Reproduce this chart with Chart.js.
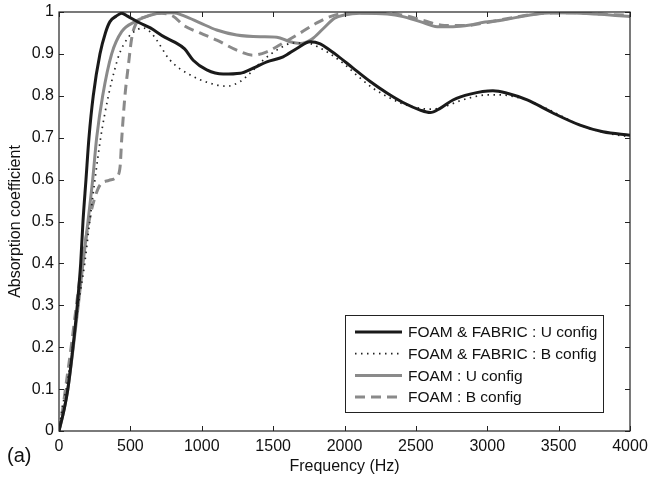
<!DOCTYPE html>
<html>
<head>
<meta charset="utf-8">
<script src="https://cdn.jsdelivr.net/npm/chart.js@4.4.1/dist/chart.umd.min.js"></script>
<style>
  body { margin: 0; background: #fff; }
  canvas { display: block; }
</style>
</head>
<body>
<canvas id="absorption-chart" width="648" height="479"></canvas>
<script>
// values, frequency in Hz
var seriesNames = ["FOAM & FABRIC : U config", "FOAM & FABRIC : B config", "FOAM : U config", "FOAM : B config"];

var fabricUFreq = [0, 35, 62, 98, 128, 152, 168, 189, 210, 240, 287, 325, 357, 400, 440, 480, 560, 640, 740, 810, 880, 940, 1035, 1150, 1270, 1360, 1456, 1570, 1666, 1760, 1830, 1900, 1950, 2060, 2180, 2300, 2410, 2530, 2600, 2670, 2760, 2880, 3040, 3140, 3280, 3460, 3650, 3810, 4000];
var fabricUAbs = [0, 0.05, 0.1, 0.2, 0.3, 0.4, 0.5, 0.6, 0.7, 0.8, 0.9, 0.95, 0.977, 0.99, 0.997, 0.99, 0.975, 0.962, 0.94, 0.928, 0.912, 0.885, 0.862, 0.852, 0.854, 0.866, 0.881, 0.893, 0.913, 0.929, 0.924, 0.908, 0.896, 0.866, 0.834, 0.806, 0.784, 0.766, 0.76, 0.77, 0.79, 0.804, 0.812, 0.806, 0.79, 0.759, 0.73, 0.714, 0.706];

var fabricBFreq = [0, 25, 50, 95, 135, 180, 215, 252, 292, 346, 393, 423, 486, 544, 590, 640, 680, 778, 918, 1058, 1175, 1269, 1339, 1430, 1549, 1640, 1738, 1829, 1900, 2000, 2100, 2200, 2300, 2400, 2500, 2600, 2700, 2800, 2900, 3000, 3100, 3200, 3300, 3400, 3500, 3600, 3700, 3800, 3900, 4000];
var fabricBAbs = [0, 0.06, 0.1, 0.2, 0.3, 0.4, 0.5, 0.6, 0.7, 0.8, 0.866, 0.9, 0.94, 0.957, 0.962, 0.952, 0.935, 0.885, 0.85, 0.83, 0.823, 0.834, 0.854, 0.885, 0.914, 0.926, 0.926, 0.914, 0.9, 0.875, 0.845, 0.818, 0.798, 0.782, 0.772, 0.768, 0.774, 0.787, 0.797, 0.802, 0.802, 0.797, 0.787, 0.772, 0.755, 0.738, 0.724, 0.714, 0.707, 0.702];

var foamUFreq = [0, 35, 62, 100, 135, 168, 203, 236, 264, 306, 369, 439, 533, 620, 700, 800, 880, 988, 1105, 1245, 1409, 1526, 1619, 1690, 1770, 1850, 1930, 2000, 2110, 2300, 2410, 2530, 2650, 2760, 2880, 2950, 3110, 3300, 3460, 3650, 3860, 4000];
var foamUAbs = [0, 0.05, 0.1, 0.2, 0.3, 0.4, 0.5, 0.6, 0.7, 0.8, 0.9, 0.953, 0.977, 0.99, 0.997, 0.998, 0.99, 0.974, 0.957, 0.945, 0.941, 0.94, 0.929, 0.925, 0.935, 0.96, 0.985, 0.993, 0.997, 0.995, 0.989, 0.977, 0.965, 0.965, 0.969, 0.974, 0.981, 0.993, 0.998, 0.997, 0.993, 0.989];

var foamBFreq = [0, 25, 45, 85, 122, 160, 210, 245, 287, 350, 404, 428, 439, 462, 486, 509, 535, 620, 720, 800, 870, 988, 1105, 1245, 1360, 1456, 1570, 1690, 1806, 1900, 2000, 2200, 2400, 2550, 2700, 2850, 3000, 3200, 3400, 3600, 3800, 4000];
var foamBAbs = [0, 0.05, 0.1, 0.2, 0.3, 0.4, 0.5, 0.55, 0.587, 0.598, 0.607, 0.631, 0.695, 0.8, 0.873, 0.937, 0.969, 0.99, 0.997, 0.99, 0.969, 0.95, 0.933, 0.909, 0.897, 0.905, 0.926, 0.95, 0.974, 0.989, 0.997, 0.998, 0.993, 0.98, 0.968, 0.968, 0.975, 0.988, 0.997, 0.998, 0.995, 0.992];

var xTicks = [0, 500, 1000, 1500, 2000, 2500, 3000, 3500, 4000];
var yTicks = [0, 0.1, 0.2, 0.3, 0.4, 0.5, 0.6, 0.7, 0.8, 0.9, 1];

var dark = "#1a1a1a";
var gray = "#8a8a8a";
var fontFamily = "'Liberation Sans', Arial, Helvetica, sans-serif";

function zip(xs, ys) {
	var pts = [];
	for (var i = 0; i < xs.length; i++) {
		pts.push({ x : xs[i], y : ys[i] });
	}
	return pts;
}

// matlab-ish box: inward ticks on all four sides, legend and panel tag
var boxPlugin = {
	id : "matlabBox",
	afterDraw : function (chart) {
		var ctx = chart.ctx;
		var area = chart.chartArea;
		var xs = chart.scales.x;
		var ys = chart.scales.y;
		var len = 5;

		ctx.save();
		ctx.strokeStyle = "#222";
		ctx.lineWidth = 1.2;
		ctx.strokeRect(area.left, area.top, area.right - area.left, area.bottom - area.top);

		ctx.lineWidth = 1;
		ctx.beginPath();
		xTicks.forEach(function (v) {
			var px = Math.round(xs.getPixelForValue(v)) + 0.5;
			ctx.moveTo(px, area.bottom);
			ctx.lineTo(px, area.bottom - len);
			ctx.moveTo(px, area.top);
			ctx.lineTo(px, area.top + len);
		});
		yTicks.forEach(function (v) {
			var py = Math.round(ys.getPixelForValue(v)) + 0.5;
			ctx.moveTo(area.left, py);
			ctx.lineTo(area.left + len, py);
			ctx.moveTo(area.right, py);
			ctx.lineTo(area.right - len, py);
		});
		ctx.stroke();

		// legend
		var lx = 345, ly = 315, lw = 258, lh = 97;
		ctx.fillStyle = "#fff";
		ctx.fillRect(lx, ly, lw, lh);
		ctx.strokeStyle = "#222";
		ctx.lineWidth = 1;
		ctx.strokeRect(lx + 0.5, ly + 0.5, lw, lh);

		ctx.font = "15.5px " + fontFamily;
		ctx.textBaseline = "middle";
		ctx.textAlign = "left";
		chart.data.datasets.forEach(function (ds, i) {
			var rowY = ly + 17 + i * 21.7;
			ctx.beginPath();
			ctx.strokeStyle = ds.borderColor;
			ctx.lineWidth = ds.borderWidth;
			ctx.setLineDash(ds.borderDash || []);
			ctx.moveTo(lx + 10, rowY);
			ctx.lineTo(lx + 57, rowY);
			ctx.stroke();
			ctx.setLineDash([]);
			ctx.fillStyle = "#111";
			ctx.fillText(ds.label, lx + 63, rowY + 1);
		});

		ctx.font = "20px " + fontFamily;
		ctx.textBaseline = "alphabetic";
		ctx.fillStyle = "#111";
		ctx.fillText("(a)", 7, 462);
		ctx.restore();
	}
};

var ctx1 = document.getElementById("absorption-chart");

var chart1 = new Chart(ctx1, {
	type : "line",
	data : {
		datasets : [
			{
				label : seriesNames[0],
				data : zip(fabricUFreq, fabricUAbs),
				borderColor : dark,
				borderWidth : 3,
				pointRadius : 0,
				cubicInterpolationMode : "monotone"
			},
			{
				label : seriesNames[1],
				data : zip(fabricBFreq, fabricBAbs),
				borderColor : "#222",
				borderWidth : 1.7,
				borderDash : [1.5, 4.5],
				pointRadius : 0,
				cubicInterpolationMode : "monotone"
			},
			{
				label : seriesNames[2],
				data : zip(foamUFreq, foamUAbs),
				borderColor : gray,
				borderWidth : 3,
				pointRadius : 0,
				cubicInterpolationMode : "monotone"
			},
			{
				label : seriesNames[3],
				data : zip(foamBFreq, foamBAbs),
				borderColor : gray,
				borderWidth : 3,
				borderDash : [10, 6],
				pointRadius : 0,
				cubicInterpolationMode : "monotone"
			}
		]
	},
	options : {
		responsive : false,
		animation : false,
		layout : {
			padding : { left : 0, top : 12, right : 18, bottom : 0 }
		},
		plugins : {
			legend : { display : false },
			tooltip : { enabled : false }
		},
		scales : {
			x : {
				type : "linear",
				min : 0,
				max : 4000,
				afterFit : function (scale) {
					scale.height = 48;
					scale.paddingLeft = 0;
					scale.paddingRight = 0;
				},
				afterBuildTicks : function (scale) {
					scale.ticks = xTicks.map(function (v) { return { value : v }; });
				},
				grid : { display : false, drawTicks : false },
				border : { display : false },
				ticks : {
					padding : 6,
					color : "#111",
					font : { size : 16, family : fontFamily },
					maxRotation : 0,
					callback : function (v) { return String(v); }
				},
				title : {
					display : true,
					text : "Frequency (Hz)",
					color : "#111",
					font : { size : 16, family : fontFamily },
					padding : { top : 0, bottom : 3 }
				}
			},
			y : {
				min : 0,
				max : 1,
				afterFit : function (scale) {
					scale.width = 59;
					scale.paddingTop = 0;
					scale.paddingBottom = 0;
				},
				afterBuildTicks : function (scale) {
					scale.ticks = yTicks.map(function (v) { return { value : v }; });
				},
				grid : { display : false, drawTicks : false },
				border : { display : false },
				ticks : {
					padding : 5,
					color : "#111",
					font : { size : 16, family : fontFamily },
					callback : function (v) { return String(+v.toFixed(1)); }
				},
				title : {
					display : true,
					text : "Absorption coefficient",
					color : "#111",
					font : { size : 16, family : fontFamily },
					padding : { top : 6, bottom : 0 }
				}
			}
		}
	},
	plugins : [boxPlugin]
});
</script>
</body>
</html>
